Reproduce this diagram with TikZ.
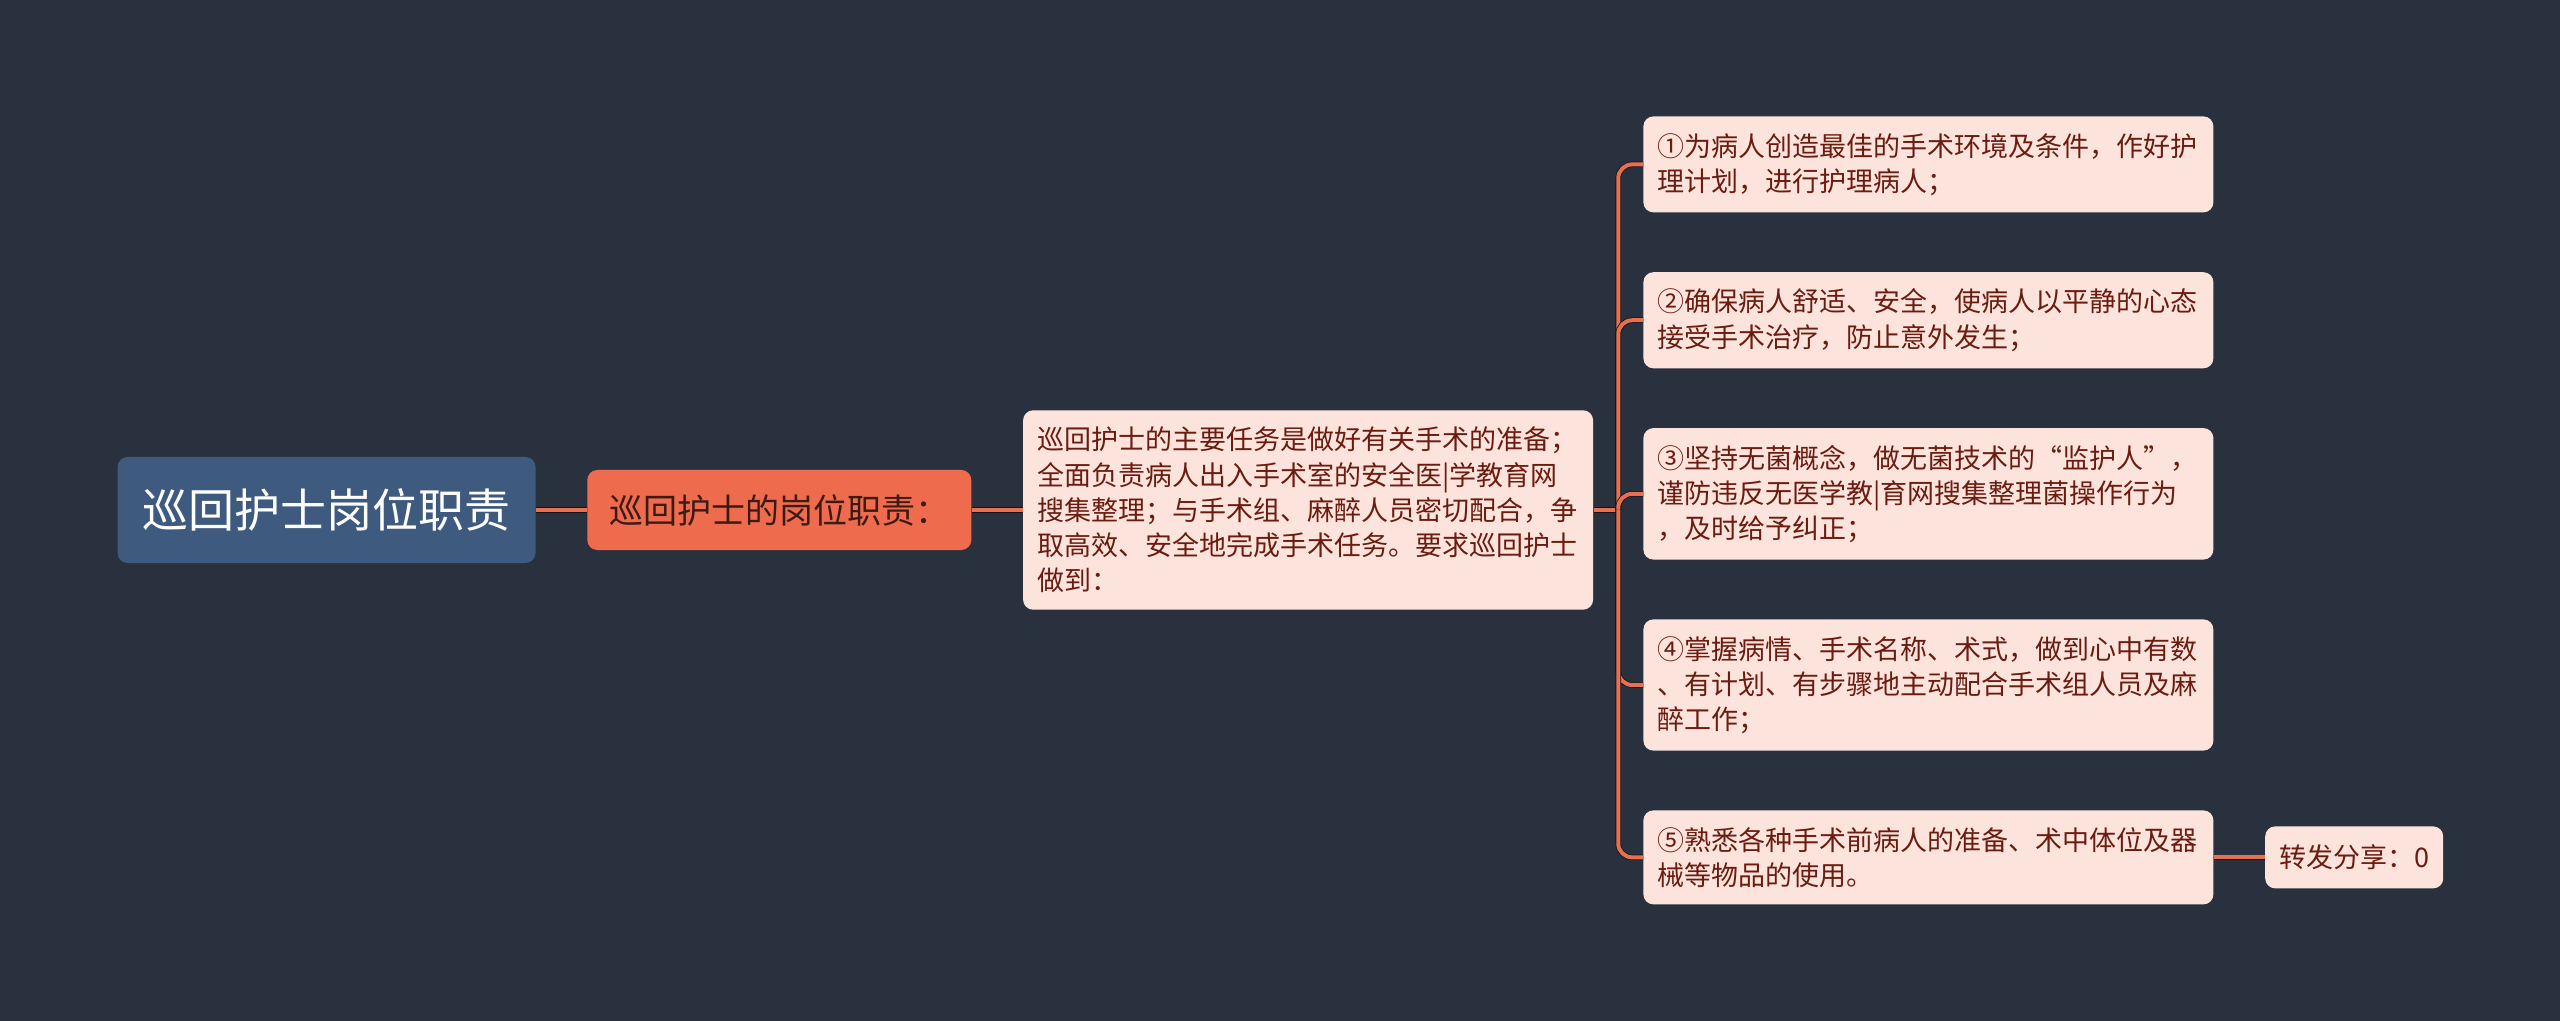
\documentclass[tikz,border=0pt]{standalone}
\usepackage{fontspec}
\newfontfamily\cjk{Noto Sans CJK SC}
\usetikzlibrary{positioning, calc}
\definecolor{bgnavy}{HTML}{29313F}
\definecolor{rootblue}{HTML}{3E5A7E}
\definecolor{dutycoral}{HTML}{EE6B4D}
\definecolor{notepink}{HTML}{FCE4DD}
\definecolor{notetext}{HTML}{6B1C10}
\definecolor{linkorange}{HTML}{E8704F}

\begin{document}
\begin{tikzpicture}[
    x=0.5pt, y=-0.5pt,
    node distance=29.5pt and 25.5pt,
    every node/.style={font=\cjk},
    root/.style={rectangle, fill=rootblue, text=white, rounded corners=5pt,
                 minimum width=209pt, minimum height=53pt,
                 font=\cjk\fontsize{23}{28}\selectfont},
    duty/.style={rectangle, fill=dutycoral, text=black!75!dutycoral, rounded corners=5pt,
                 minimum width=192pt, minimum height=40pt,
                 font=\cjk\fontsize{17}{20}\selectfont},
    note/.style={rectangle, fill=notepink, text=notetext, rounded corners=5pt,
                 text width=271pt, inner xsep=7pt, inner ysep=8.4pt, align=left,
                 font=\cjk\fontsize{13.5}{17.6}\selectfont},
    share/.style={rectangle, fill=notepink, text=notetext, rounded corners=5pt,
                  minimum width=89pt, minimum height=31pt,
                  font=\cjk\fontsize{13.5}{16}\selectfont},
    link/.style={draw=linkorange, line width=2pt,
                 preaction={draw=black!55!bgnavy, line width=2.8pt}},
]

% Canvas
\useasboundingbox (0,0) rectangle (2560,1021);
\fill[bgnavy] (0,0) rectangle (2560,1021);

% Main branch
\node[root] (root) at (326.5,510) {巡回护士岗位职责};
\node[duty, right=of root] (duty) {巡回护士的岗位职责：};
\node[note, right=of duty] (task) {巡回护士的主要任务是做好有关手术的准备；\\全面负责病人出入手术室的安全医|学教育网\\搜集整理；与手术组、麻醉人员密切配合，争\\取高效、安全地完成手术任务。要求巡回护士\\做到：};

% Duties
\node[note, anchor=north west] (d1) at (1643,116) {①为病人创造最佳的手术环境及条件，作好护\\理计划，进行护理病人；};
\node[note, below=of d1] (d2) {②确保病人舒适、安全，使病人以平静的心态\\接受手术治疗，防止意外发生；};
\node[note, below=of d2] (d3) {③坚持无菌概念，做无菌技术的“监护人”，\\谨防违反无医学教|育网搜集整理菌操作行为\\，及时给予纠正；};
\node[note, below=of d3] (d4) {④掌握病情、手术名称、术式，做到心中有数\\、有计划、有步骤地主动配合手术组人员及麻\\醉工作；};
\node[note, below=of d4] (d5) {⑤熟悉各种手术前病人的准备、术中体位及器\\械等物品的使用。};

\node[share, right=of d5] (share) {转发分享：0};

% Connectors
\coordinate (hub) at ($(task.east)!0.5!(task.east -| d1.west)$);
\draw[link] (root) -- (duty);
\draw[link] (duty) -- (task);
\draw[link] (task.east) -- (hub);
\foreach \d in {d1,d2,d3,d4,d5}
  \draw[link, rounded corners=7pt] (hub) |- (\d.west);
\draw[link] (d5) -- (share);

\end{tikzpicture}
\end{document}
